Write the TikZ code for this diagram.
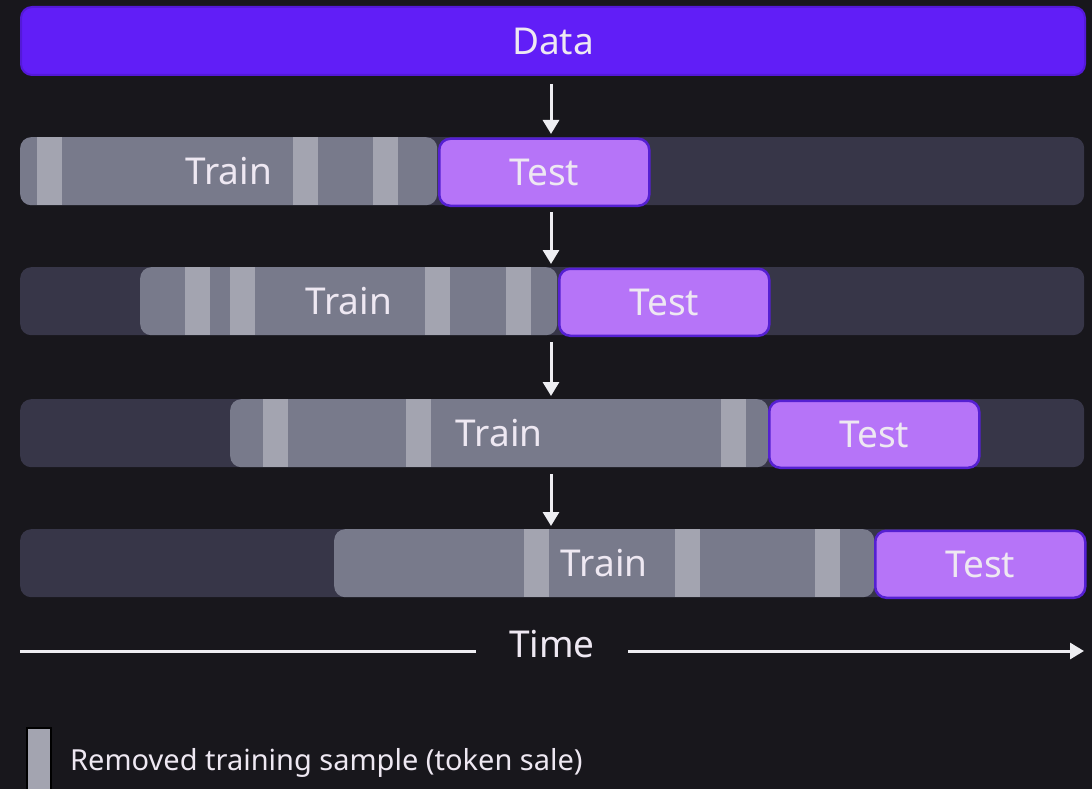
\documentclass[tikz,border=0pt]{standalone}
\usepackage{fontspec}
\setmainfont{Noto Sans}
\usetikzlibrary{arrows.meta}
\definecolor{bg}{HTML}{18171C}
\definecolor{datafill}{HTML}{611EF7}
\definecolor{dataedge}{HTML}{5419D8}
\definecolor{testfill}{HTML}{B674F8}
\definecolor{testedge}{HTML}{5520D2}
\definecolor{trainfill}{HTML}{787A8B}
\definecolor{barfill}{HTML}{A3A4B0}
\definecolor{trackfill}{HTML}{373648}
\definecolor{txt}{HTML}{EEE8F2}
\definecolor{arr}{HTML}{EEEEF2}
\tikzset{
  box/.style={rectangle, inner sep=0pt, anchor=north west, minimum height=68pt, text=txt, font=\fontsize{37}{42}\selectfont},
  databox/.style={box, fill=datafill, draw=dataedge, line width=2pt, rounded corners=11pt},
  trackbox/.style={box, fill=trackfill, rounded corners=11pt},
  trainbox/.style={box, fill=trainfill, rounded corners=11pt},
  testbox/.style={box, fill=testfill, draw=testedge, line width=2.5pt, rounded corners=11pt},
  barbox/.style={rectangle, inner sep=0pt, anchor=north west, minimum height=68pt, minimum width=25pt, fill=barfill},
  flow/.style={draw=arr, line width=3pt, -{Triangle[length=14pt,width=16pt]}},
}
\begin{document}
\begin{tikzpicture}[x=1pt,y=-1pt]
\useasboundingbox[fill=bg] (0,0) rectangle (1092,789);
% Data
\node[databox, minimum width=1064pt] (data) at (20,6) {Data};
% Row 1
\node[trackbox, minimum width=1064pt] (track1) at (20,137) {};
\node[trainbox, minimum width=417pt] (train1) at (20,137) {Train};
\node[barbox] (b11) at (37,137) {};
\node[barbox] (b12) at (293,137) {};
\node[barbox] (b13) at (373,137) {};
\node[testbox, minimum width=210pt, minimum height=67pt] (test1) at (438,137.5) {Test};
% Row 2
\node[trackbox, minimum width=1064pt] (track2) at (20,267) {};
\node[trainbox, minimum width=417pt] (train2) at (140,267) {Train};
\node[barbox] (b21) at (185,267) {};
\node[barbox] (b22) at (230,267) {};
\node[barbox] (b23) at (425,267) {};
\node[barbox] (b24) at (506,267) {};
\node[testbox, minimum width=210pt, minimum height=67pt] (test2) at (558,267.5) {Test};
% Row 3
\node[trackbox, minimum width=1064pt] (track3) at (20,399) {};
\node[trainbox, minimum width=538pt] (train3) at (230,399) {Train};
\node[barbox] (b31) at (263,399) {};
\node[barbox] (b32) at (406,399) {};
\node[barbox] (b33) at (721,399) {};
\node[testbox, minimum width=210pt, minimum height=67pt] (test3) at (768,399.5) {Test};
% Row 4
\node[trackbox, minimum width=1064pt] (track4) at (20,529) {};
\node[trainbox, minimum width=540pt] (train4) at (334,529) {Train};
\node[barbox] (b41) at (524,529) {};
\node[barbox] (b42) at (675,529) {};
\node[barbox] (b43) at (815,529) {};
\node[testbox, minimum width=210pt, minimum height=67pt] (test4) at (874,529.5) {Test};
% vertical arrows
\draw[flow] ([yshift=-8pt]data.south -| 551,0) -- ([yshift=3pt]track1.north -| 551,0);
\draw[flow] ([yshift=-7pt]track1.south -| 551,0) -- ([yshift=3pt]track2.north -| 551,0);
\draw[flow] ([yshift=-7pt]track2.south -| 551,0) -- ([yshift=3pt]track3.north -| 551,0);
\draw[flow] ([yshift=-7pt]track3.south -| 551,0) -- ([yshift=3pt]track4.north -| 551,0);
% Time axis
\node[text=txt, font=\fontsize{37}{42}\selectfont, inner sep=0pt] (time) at (552,644) {Time};
\coordinate (tl) at (20,651);
\coordinate (tr) at (1084,651);
\draw[draw=arr, line width=3pt] (tl) -- (tl -| 476,0);
\draw[draw=arr, line width=3pt, -{Triangle[length=14pt,width=16pt]}] (tr -| 628,0) -- (tr);
% Legend
\node[rectangle, inner sep=0pt, anchor=north west, minimum width=24pt, minimum height=70pt, fill=barfill, draw=black, line width=2pt] (legbar) at (26,727) {};
\node[text=txt, font=\fontsize{29}{34}\selectfont, inner sep=0pt, anchor=west] (legtext) at (70,763) {Removed training sample (token sale)};
\end{tikzpicture}
\end{document}
